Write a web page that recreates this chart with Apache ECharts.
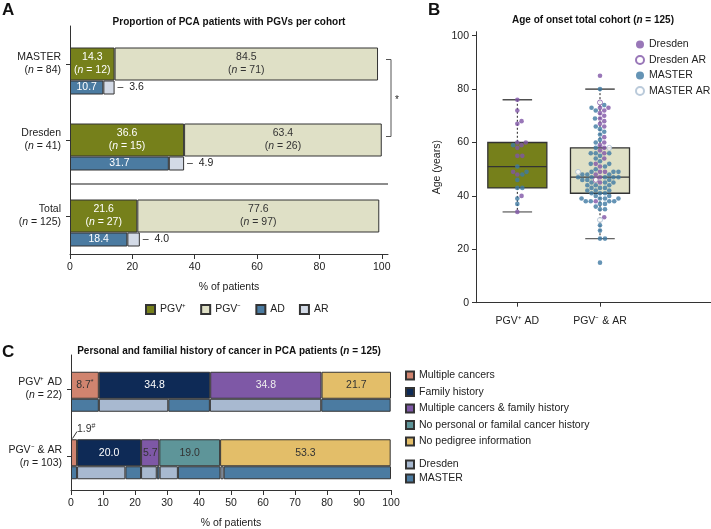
<!DOCTYPE html>
<html>
<head>
<meta charset="utf-8">
<title>PCA cohorts</title>
<script src="https://cdn.jsdelivr.net/npm/echarts@6/dist/echarts.min.js"></script>
<style>
  body { margin: 0; background: #fff; }
  #main { width: 711px; height: 529px; }
</style>
</head>
<body>
<div id="main"></div>
<script>
// ---------- A: PGVs per cohort ----------
var cohorts = ['MASTER', 'Dresden', 'Total'];
var cohortN = [84, 41, 125];
var pgvPos = [14.3, 36.6, 21.6];
var pgvPosN = [12, 15, 27];
var pgvNeg = [84.5, 63.4, 77.6];
var pgvNegN = [71, 26, 97];
var adPct = [10.7, 31.7, 18.4];
var arPct = [3.6, 4.9, 4.0];
var pctTicks = [0, 20, 40, 60, 80, 100];

// ---------- B: age of onset ----------
var ageGroups = ['PGV⁺ AD', 'PGV⁻ & AR', ''];
// min, q1, median, q3, max
var boxStats = [[34, 43, 51, 60, 76], [24, 41, 47, 58, 80]];
var ageTicks = [0, 20, 40, 60, 80, 100];
var adDresden = [76, 72, 68, 67, 60, 60, 59, 58, 55, 55, 49, 48, 40, 34];
var adMaster = [59, 51, 49, 48, 46, 43, 43, 39, 37];
var negDresden = [85, 73, 73, 72, 71, 70, 69, 68, 67, 66, 62, 60, 59, 58, 57, 56, 54, 52, 51, 49, 49, 48, 47, 45, 38, 32];
var negDresdenAR = [75, 46];
var negMaster = [80, 74, 73, 72, 69, 66, 65, 64, 63, 61, 60, 58, 56, 56, 56, 55, 54, 53, 52, 52, 51, 50,
  49, 49, 49, 48, 48, 48, 47, 47, 47, 47, 47, 46, 46, 46, 45, 45, 45, 44, 44, 44, 43, 43, 43,
  42, 42, 42, 41, 41, 41, 40, 40, 39, 39, 39, 39, 38, 38, 38, 38, 37, 37, 36, 35, 35, 29, 27, 24, 24, 15];
var negMasterAR = [58, 49, 31];

// ---------- C: cancer history ----------
var histRows = ['PGV⁺ AD', 'PGV⁻ & AR'];
var histN = [22, 103];
var histCats = ['Multiple cancers', 'Family history', 'Multiple cancers & family history',
  'No personal or familal cancer history', 'No pedigree information'];
var multipleCancers = [8.7, 1.9];
var familyHistory = [34.8, 20.0];
var multipleAndFamily = [34.8, 5.7];
var noHistory = [null, 19.0];
var noPedigree = [21.7, 53.3];
// cohort split under each bar, left to right, MASTER first then alternating
var splitAD = [8.7, 21.7, 13.0, 34.8, 21.7];
var splitNeg = [1.9, 15.1, 4.9, 4.9, 0.9, 5.7, 13.3, 1.0, 52.3];

var ink = '#222';
var axisInk = '#333';
var fontFam = 'Liberation Sans, Arial, Helvetica, sans-serif';
var fs = 10.5;
var purple = '#7f55a6';
var blue = '#3e79a2';

var chart = echarts.init(document.getElementById('main'));

// beeswarm layout (pixel offsets), uses grid B size
var pxPerYear = 271 / 101.5;
var bandPx = 248 / 3;
var dotD = 5;
function swarmOffsets(ages) {
  var order = ages.map(function (a, i) { return i; }).sort(function (i, j) { return ages[i] - ages[j]; });
  var placed = [];
  var xs = [];
  order.forEach(function (i) {
    var y = ages[i] * pxPerYear;
    var cand = [0];
    placed.forEach(function (p) {
      var dy = Math.abs(p.y - y);
      if (dy < dotD) {
        var dx = Math.sqrt(dotD * dotD - dy * dy);
        cand.push(p.x + dx, p.x - dx);
      }
    });
    cand.sort(function (a, b) { return Math.abs(a) - Math.abs(b); });
    var x = cand.find(function (c) {
      return placed.every(function (p) { return (p.x - c) * (p.x - c) + (p.y - y) * (p.y - y) >= dotD * dotD - 0.01; });
    });
    placed.push({ x: x, y: y });
    xs[i] = x;
  });
  return xs;
}

var swarmSources = [
  { group: 0, ages: adDresden, series: 'Dresden' },
  { group: 0, ages: adMaster, series: 'MASTER' },
  { group: 1, ages: negDresden, series: 'Dresden' },
  { group: 1, ages: negDresdenAR, series: 'Dresden AR' },
  { group: 1, ages: negMaster, series: 'MASTER' },
  { group: 1, ages: negMasterAR, series: 'MASTER AR' }
];
var groupPts = [[], []];
swarmSources.forEach(function (src) {
  src.ages.forEach(function (a) { groupPts[src.group].push({ age: a, series: src.series }); });
});
var dotData = { 'Dresden': [], 'Dresden AR': [], 'MASTER': [], 'MASTER AR': [] };
groupPts.forEach(function (pts, g) {
  var xs = swarmOffsets(pts.map(function (p) { return p.age; }));
  pts.forEach(function (p, k) { dotData[p.series].push([g + xs[k] / bandPx, p.age]); });
});
var dotStyles = {
  'Dresden': { color: purple },
  'Dresden AR': { color: '#fff', borderColor: purple, borderWidth: 1 },
  'MASTER': { color: blue },
  'MASTER AR': { color: '#fff', borderColor: '#a9bdd1', borderWidth: 1 }
};
var boxFills = ['#76801b', '#dfe0c6'];

function nLine(n) { return '({i|n} = ' + n + ')'; }
function richFor(color) { return { i: { fontStyle: 'italic', color: color, fontSize: fs, lineHeight: 13 } }; }

var series = [];

// A bars: spacer stack keeps the main bar centred on the row tick
series.push({ type: 'bar', name: 'spA', xAxisIndex: 0, yAxisIndex: 0, stack: 'a0', barWidth: 14, barGap: 0, data: [null, null, null], silent: true });
series.push({
  type: 'bar', name: 'PGV⁺', xAxisIndex: 0, yAxisIndex: 0, stack: 'a1', barWidth: 33, barGap: 0, data: pgvPos,
  itemStyle: { color: '#76801b', borderColor: axisInk, borderWidth: 1 },
  label: { show: true, position: 'inside', color: '#fff', fontSize: fs, lineHeight: 13, rich: richFor('#fff'),
    formatter: function (p) { return p.value.toFixed(1) + '\n' + nLine(pgvPosN[p.dataIndex]); } }
});
series.push({
  type: 'bar', name: 'PGV⁻', xAxisIndex: 0, yAxisIndex: 0, stack: 'a1', barWidth: 33, barGap: 0, data: pgvNeg,
  itemStyle: { color: '#dfe0c6', borderColor: axisInk, borderWidth: 1 },
  label: { show: true, position: 'inside', color: '#333', fontSize: fs, lineHeight: 13, rich: richFor('#333'),
    formatter: function (p) { return p.value.toFixed(1) + '\n' + nLine(pgvNegN[p.dataIndex]); } }
});
series.push({
  type: 'bar', name: 'AD', xAxisIndex: 0, yAxisIndex: 0, stack: 'a2', barWidth: 14, barGap: 0, data: adPct,
  itemStyle: { color: '#4b7ba1', borderColor: axisInk, borderWidth: 1 },
  label: { show: true, position: 'inside', color: '#fff', fontSize: fs, formatter: function (p) { return p.value.toFixed(1); } }
});
series.push({
  type: 'bar', name: 'AR', xAxisIndex: 0, yAxisIndex: 0, stack: 'a2', barWidth: 14, barGap: 0, data: arPct,
  itemStyle: { color: '#d3dae6', borderColor: axisInk, borderWidth: 1 },
  label: { show: true, position: 'right', distance: 3, color: ink, fontSize: fs, formatter: function (p) { return '–  ' + p.value.toFixed(1); } }
});

// B box plots
series.push({
  type: 'custom', name: 'box', xAxisIndex: 1, yAxisIndex: 1, silent: true, z: 1,
  data: boxStats.map(function (s, i) { return [i].concat(s); }),
  encode: { x: 0, y: [1, 2, 3, 4, 5] },
  renderItem: function (params, api) {
    var c = api.value(0);
    var lo = api.coord([c, api.value(1)]);
    var q1 = api.coord([c, api.value(2)]);
    var md = api.coord([c, api.value(3)]);
    var q3 = api.coord([c, api.value(4)]);
    var hi = api.coord([c, api.value(5)]);
    var bw = api.size([1, 0])[0] * 0.714;
    var cw = bw / 2;
    var x = lo[0];
    var dotted = { stroke: '#222', lineWidth: 1, lineDash: [2, 2] };
    var solid = { stroke: '#333', lineWidth: 1.3 };
    return {
      type: 'group', children: [
        { type: 'line', shape: { x1: x, y1: hi[1], x2: x, y2: q3[1] }, style: dotted },
        { type: 'line', shape: { x1: x, y1: q1[1], x2: x, y2: lo[1] }, style: dotted },
        { type: 'rect', shape: { x: x - bw / 2, y: q3[1], width: bw, height: q1[1] - q3[1] },
          style: { fill: boxFills[params.dataIndex], stroke: '#333', lineWidth: 1.3 } },
        { type: 'line', shape: { x1: x - bw / 2, y1: md[1], x2: x + bw / 2, y2: md[1] }, style: solid },
        { type: 'line', shape: { x1: x - cw / 2, y1: hi[1], x2: x + cw / 2, y2: hi[1] }, style: solid },
        { type: 'line', shape: { x1: x - cw / 2, y1: lo[1], x2: x + cw / 2, y2: lo[1] }, style: { stroke: '#666', lineWidth: 1.3 } }
      ]
    };
  }
});
['Dresden', 'MASTER', 'Dresden AR', 'MASTER AR'].forEach(function (name) {
  series.push({
    type: 'scatter', name: name, xAxisIndex: 2, yAxisIndex: 1, z: 3,
    symbolSize: name.indexOf('AR') > 0 ? 5 : 4.6,
    itemStyle: dotStyles[name], data: dotData[name]
  });
});

// C bars
var histData = [multipleCancers, familyHistory, multipleAndFamily, noHistory, noPedigree];
var histColors = ['#d0846f', '#0e2a56', '#7e58a6', '#5e9599', '#e3be69'];
var histLabelColors = [['#333', '#333'], ['#fff', '#fff'], ['#eee', '#333'], ['#333', '#333'], ['#333', '#333']];
series.push({ type: 'bar', name: 'spC', xAxisIndex: 3, yAxisIndex: 2, stack: 'c0', barWidth: 6, barGap: 0, data: [null, null], silent: true });
histCats.forEach(function (name, k) {
  series.push({
    type: 'bar', name: name, xAxisIndex: 3, yAxisIndex: 2, stack: 'c1', barWidth: 27, barGap: 0,
    itemStyle: { color: histColors[k], borderColor: axisInk, borderWidth: 1 },
    label: {
      show: true, position: 'inside', fontSize: fs,
      rich: { v: { color: '#333', fontSize: fs }, s: { color: '#333', fontSize: 7, padding: [0, 0, 6, 0] } },
      formatter: function (p) {
        var t = p.value.toFixed(1);
        if (k === 0) return '{v|' + t + '}{s|' + (p.dataIndex === 0 ? '*' : '#') + '}';
        return t;
      }
    },
    data: histData[k].map(function (v, i) {
      if (v == null) return null;
      var item = { value: v, label: { color: histLabelColors[k][i] } };
      if (k === 0 && i === 1) item.label.position = [6, -17];
      return item;
    })
  });
});
splitNeg.forEach(function (v, k) {
  var isMaster = k % 2 === 0;
  series.push({
    type: 'bar', name: isMaster ? 'MASTER (C)' : 'Dresden (C)', xAxisIndex: 3, yAxisIndex: 2, stack: 'c2', barWidth: 13, barGap: 0,
    itemStyle: { color: isMaster ? '#4b7ba1' : '#a8b9d0', borderColor: axisInk, borderWidth: 1 },
    data: [k < splitAD.length ? splitAD[k] : null, v]
  });
});

var txt = { color: ink, fontSize: fs, fontFamily: fontFam };

var option = {
  animation: false,
  backgroundColor: '#fff',
  textStyle: { fontFamily: fontFam, color: ink },
  title: [
    { text: 'A', left: 2, top: 2, padding: 0, textStyle: { fontSize: 17, fontWeight: 'bold', color: '#111' } },
    { text: 'Proportion of PCA patients with PGVs per cohort', left: 229, top: 22, padding: 0, textAlign: 'center', textVerticalAlign: 'middle',
      textStyle: { fontSize: 10, fontWeight: 'bold', color: '#111' } },
    { text: 'B', left: 428, top: 2, padding: 0, textStyle: { fontSize: 17, fontWeight: 'bold', color: '#111' } },
    { text: 'Age of onset total cohort ({i|n} = 125)', left: 593, top: 20, padding: 0, textAlign: 'center', textVerticalAlign: 'middle',
      textStyle: { fontSize: 10, fontWeight: 'bold', color: '#111', rich: { i: { fontSize: 10, fontWeight: 'bold', fontStyle: 'italic', color: '#111' } } } },
    { text: 'C', left: 2, top: 344, padding: 0, textStyle: { fontSize: 17, fontWeight: 'bold', color: '#111' } },
    { text: 'Personal and familial history of cancer in PCA patients ({i|n} = 125)', left: 229, top: 351, padding: 0, textAlign: 'center', textVerticalAlign: 'middle',
      textStyle: { fontSize: 10, fontWeight: 'bold', color: '#111', rich: { i: { fontSize: 10, fontWeight: 'bold', fontStyle: 'italic', color: '#111' } } } }
  ],
  legend: [
    { data: ['PGV⁺', 'PGV⁻', 'AD', 'AR'], left: 145, top: 304, padding: 0, icon: 'rect', itemWidth: 9, itemHeight: 9, itemGap: 14, textStyle: txt, selectedMode: false },
    { data: ['Dresden', 'Dresden AR', 'MASTER', 'MASTER AR'], orient: 'vertical', left: 635, top: 39, padding: 0, icon: 'circle',
      itemWidth: 8, itemHeight: 8, itemGap: 4.5, textStyle: txt, selectedMode: false },
    { data: histCats, orient: 'vertical', left: 405, top: 370, padding: 0, icon: 'rect', itemWidth: 8, itemHeight: 8, itemGap: 5.5, textStyle: txt, selectedMode: false },
    { data: ['Dresden (C)', 'MASTER (C)'], orient: 'vertical', left: 405, top: 459, padding: 0, icon: 'rect', itemWidth: 8, itemHeight: 8, itemGap: 3,
      textStyle: txt, selectedMode: false, formatter: function (n) { return n.replace(' (C)', ''); } }
  ],
  grid: [
    { left: 70, top: 26, width: 318, height: 228, containLabel: false, outerBoundsMode: 'none' },
    { left: 476, top: 31.7, width: 248, height: 271, containLabel: false, outerBoundsMode: 'none' },
    { left: 71, top: 355, width: 320, height: 135, containLabel: false, outerBoundsMode: 'none' }
  ],
  xAxis: [
    { gridIndex: 0, type: 'value', min: 0, max: 102, splitLine: { show: false },
      axisLine: { show: true, onZero: false, lineStyle: { color: axisInk } },
      axisTick: { show: true, length: 5, customValues: pctTicks, lineStyle: { color: axisInk } },
      axisLabel: { customValues: pctTicks, margin: 8, color: ink, fontSize: fs },
      name: '% of patients', nameLocation: 'middle', nameGap: 28, nameTextStyle: txt },
    { gridIndex: 1, type: 'category', data: ageGroups, boundaryGap: true,
      axisLine: { show: true, onZero: false, lineStyle: { color: axisInk } },
      axisTick: { show: true, alignWithLabel: true, length: 4, lineStyle: { color: axisInk },
        interval: function (i, v) { return v !== ''; } },
      axisLabel: { margin: 13, color: ink, fontSize: fs, interval: 0 } },
    { gridIndex: 1, type: 'value', min: -0.5, max: 2.5, show: false },
    { gridIndex: 2, type: 'value', min: 0, max: 100, interval: 10, splitLine: { show: false },
      axisLine: { show: true, onZero: false, lineStyle: { color: axisInk } },
      axisTick: { show: true, length: 5, lineStyle: { color: axisInk } },
      axisLabel: { margin: 8, color: ink, fontSize: fs },
      name: '% of patients', nameLocation: 'middle', nameGap: 28, nameTextStyle: txt }
  ],
  yAxis: [
    { gridIndex: 0, type: 'category', data: cohorts, inverse: true,
      axisLine: { show: true, onZero: false, lineStyle: { color: axisInk } },
      axisTick: { show: true, alignWithLabel: true, length: 4, lineStyle: { color: axisInk } },
      axisLabel: { margin: 9, color: ink, fontSize: fs, lineHeight: 13, align: 'right', rich: richFor(ink),
        formatter: function (v, i) { return v + '\n' + nLine(cohortN[i]); } } },
    { gridIndex: 1, type: 'value', min: 0, max: 101.5, splitLine: { show: false },
      axisLine: { show: true, onZero: false, lineStyle: { color: axisInk } },
      axisTick: { show: true, length: 4, customValues: ageTicks, lineStyle: { color: axisInk } },
      axisLabel: { customValues: ageTicks, margin: 7, color: ink, fontSize: fs },
      name: 'Age (years)', nameLocation: 'middle', nameRotate: 90, nameGap: 33, nameTextStyle: txt },
    { gridIndex: 2, type: 'category', data: histRows, inverse: true,
      axisLine: { show: true, onZero: false, lineStyle: { color: axisInk } },
      axisTick: { show: true, alignWithLabel: true, length: 4, lineStyle: { color: axisInk } },
      axisLabel: { margin: 9, color: ink, fontSize: fs, lineHeight: 13, align: 'right', rich: richFor(ink),
        formatter: function (v, i) { return v + '\n' + nLine(histN[i]); } } }
  ],
  graphic: [
    { type: 'line', shape: { x1: 70, y1: 184, x2: 388, y2: 184 }, style: { stroke: '#666', lineWidth: 1.3 } },
    { type: 'polyline', shape: { points: [[386, 59.5], [391, 59.5], [391, 136.5], [386, 136.5]] }, style: { stroke: '#555', lineWidth: 1, fill: null } },
    { type: 'text', x: 397, y: 100, style: { text: '*', fill: ink, font: '10px ' + fontFam, align: 'center', verticalAlign: 'middle' } },
    { type: 'line', shape: { x1: 72.5, y1: 438.5, x2: 77, y2: 431.5 }, style: { stroke: '#333', lineWidth: 1 } }
  ],
  series: series
};

chart.setOption(option);
</script>
</body>
</html>
